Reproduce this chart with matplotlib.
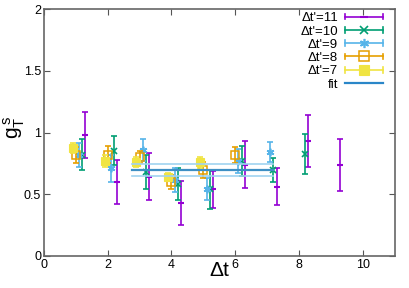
import matplotlib
matplotlib.use("Agg")
import matplotlib.pyplot as plt
from matplotlib.lines import Line2D
from matplotlib.legend_handler import HandlerBase
import numpy as np

plt.rcParams['font.family'] = ['Liberation Sans', 'DejaVu Sans']
plt.rcParams['mathtext.fontset'] = 'custom'
plt.rcParams['mathtext.rm'] = 'Liberation Sans'

# data per Δt'
dtp11_x = [1, 2, 3, 4, 5, 6, 7, 8, 9]
dtp11_y = [0.98, 0.60, 0.64, 0.43, 0.54, 0.74, 0.56, 0.93, 0.74]
dtp11_e = [0.19, 0.18, 0.19, 0.18, 0.15, 0.19, 0.15, 0.21, 0.21]

dtp10_x = [1, 2, 3, 4, 5, 6, 7, 8]
dtp10_y = [0.82, 0.853, 0.68, 0.58, 0.54, 0.77, 0.70, 0.826]
dtp10_e = [0.125, 0.117, 0.14, 0.13, 0.16, 0.12, 0.097, 0.16]

dtp9_x = [1, 2, 3, 4, 5, 6, 7]
dtp9_y = [0.818, 0.71, 0.86, 0.615, 0.54, 0.77, 0.84]
dtp9_e = [0.10, 0.11, 0.088, 0.10, 0.09, 0.10, 0.08]

dtp8_x = [1, 2, 3, 4, 5, 6]
dtp8_y = [0.818, 0.82, 0.80, 0.60, 0.70, 0.82]
dtp8_e = [0.063, 0.067, 0.047, 0.054, 0.065, 0.063]

dtp7_x = [1, 2, 3, 4, 5]
dtp7_y = [0.877, 0.77, 0.76, 0.64, 0.76]
dtp7_e = [0.04, 0.05, 0.04, 0.035, 0.045]

fit_range = [2.75, 7.2]
fit_val = 0.694
fit_err = 0.048

W, H = 409, 288
fig = plt.figure(figsize=(W/100, H/100), dpi=100)
ax = fig.add_axes([44/W, 1-256/H, (394.5-44)/W, (256-9)/H])


class HandlerEB(HandlerBase):
    def create_artists(self, legend, orig_handle, xdescent, ydescent, width,
                       height, fontsize, trans):
        col = orig_handle.get_color()
        y = height / 2 - ydescent
        x0, x1 = -xdescent, width - xdescent
        arts = [Line2D([x0, x1], [y, y], color=col, lw=1.2)]
        if orig_handle.get_marker() not in (None, 'None', ''):
            for xc in (x0, x1):
                arts.append(Line2D([xc, xc], [y - 2, y + 2], color=col, lw=1.2))
            arts.append(Line2D([(x0 + x1) / 2], [y], color=col, linestyle='none',
                               marker=orig_handle.get_marker(),
                               ms=orig_handle.get_markersize() * 1.2,
                               mew=orig_handle.get_markeredgewidth(),
                               mfc=orig_handle.get_markerfacecolor(),
                               mec=col))
        else:
            arts[0].set_linewidth(1.6)
        for a in arts:
            a.set_transform(trans)
        return arts


series = [
    (11, dtp11_x, dtp11_y, dtp11_e, '#9400d3', dict(marker='_', ms=5, mew=1.5)),
    (10, dtp10_x, dtp10_y, dtp10_e, '#009e73', dict(marker='x', ms=4.5, mew=1.2)),
    (9, dtp9_x, dtp9_y, dtp9_e, '#56b4e9', dict(marker=(6, 2, 0), ms=5.5, mew=1.2)),
    (8, dtp8_x, dtp8_y, dtp8_e, '#e69f00', dict(marker='s', ms=5.5, mew=1.1, mfc='none')),
    (7, dtp7_x, dtp7_y, dtp7_e, '#f0e442', dict(marker='s', ms=5.5, mew=0.8)),
]

handles = []
for dtp, xs, ys, es, col, mk in series:
    xp = np.array(xs) + (dtp - 8) * 0.1
    ax.errorbar(xp, ys, yerr=es, fmt='none', ecolor=col, elinewidth=1.2,
                capsize=2.2, capthick=1.2)
    ax.plot(xp, ys, linestyle='none', color=col, **mk)
    handles.append(Line2D([], [], color=col, label=f"Δt'={dtp}", **mk))

ax.plot(fit_range, [fit_val + fit_err]*2, color='#9fd3f0', lw=1.2)
ax.plot(fit_range, [fit_val - fit_err]*2, color='#9fd3f0', lw=1.2)
ax.plot(fit_range, [fit_val]*2, color='#3d8fc4', lw=1.6)
handles.append(Line2D([], [], color='#2a86c8', label='fit'))

ax.set_xlim(0, 11)
ax.set_ylim(0, 2)
ax.set_xticks([0, 2, 4, 6, 8, 10])
ax.set_yticks([0, 0.5, 1, 1.5, 2])
ax.set_yticklabels(['0', '0.5', '1', '1.5', '2'])
ax.tick_params(direction='in', top=True, right=True, labelsize=9, length=4,
               color='#555555', width=0.8, pad=2)
for s in ax.spines.values():
    s.set_color('#666666')
    s.set_linewidth(1.2)

fig.text(219/W, 1-270/H, 'Δt', fontsize=15, ha='center', va='center')
fig.text(14/W, 1-127/H, r'$\mathrm{g_T^{\,s}}$', fontsize=15, ha='center',
         va='center', rotation=90)

leg = ax.legend(handles=handles, loc='upper right', frameon=False, markerfirst=False,
                fontsize=9.5, handlelength=2.9, handletextpad=0.5, labelspacing=0.08,
                borderaxespad=0, borderpad=0,
                bbox_to_anchor=((383 - 44) / 350.5, 1 - 3 / 247),
                handler_map={Line2D: HandlerEB()})

fig.savefig('out.png', dpi=100)
